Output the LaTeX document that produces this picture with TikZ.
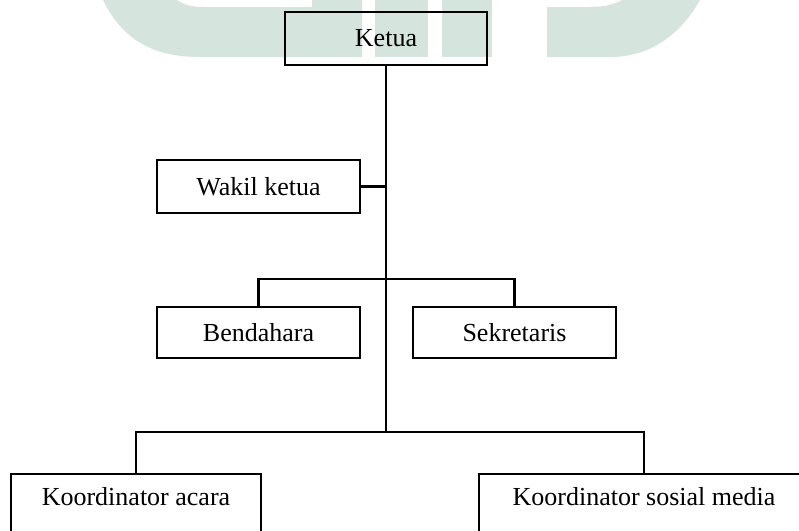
\documentclass[tikz,border=0pt]{standalone}
\usepackage{fontspec}
\setmainfont{Liberation Serif}
\definecolor{wm}{RGB}{214,228,222}
\begin{document}
\begin{tikzpicture}[x=1pt,y=-1pt,
  font=\fontsize{26}{30}\selectfont,
  box/.style={draw=black,line width=2.6pt,inner sep=0pt,minimum width=203pt,minimum height=52pt},
  kbox/.style={draw=black,line width=1.6pt,inner xsep=0pt,inner ysep=0pt,anchor=north,text height=32pt,text depth=40pt},
  conn/.style={draw=black,line width=2.5pt}]
\useasboundingbox (0,0) rectangle (799,530);
\clip (0,0) rectangle (799,530);
\fill[white] (0,0) rectangle (799,530);
% watermark
\fill[wm] (103,0) .. controls (125,45) and (160,57) .. (200,57) -- (362,57) -- (362,0) -- (312,0) -- (312,7) -- (205,7) .. controls (195,7) and (185,6) .. (177,0) -- cycle;
\fill[wm] (375,0) rectangle (428,57);
\fill[wm] (442,0) rectangle (492,57);
\fill[wm] (547,7) -- (590,7) .. controls (605,7) and (615,4) .. (622,0) -- (700,0) .. controls (680,35) and (650,57) .. (610,57) -- (547,57) -- cycle;
% nodes
\node[box,minimum width=202pt,minimum height=53pt] (ketua) at (386,38.5) {Ketua};
\node[box,minimum height=53pt] (wakil) at (258.5,186.5) {Wakil ketua};
\node[box,minimum height=51pt] (bend) at (258.5,332.5) {Bendahara};
\node[box,minimum height=51pt] (sek) at (514.5,332.5) {Sekretaris};
\node[kbox,minimum width=250pt] (ka) at (136,473) {Koordinator acara};
\node[kbox,minimum width=330pt] (ks) at (644,473) {Koordinator sosial media};
% connectors
\coordinate (b1) at (386,279);
\coordinate (b2) at (386,432);
\draw[conn] (ketua.south) -- (b2);
\draw[conn] (wakil.east) -- (wakil.east -| ketua.south);
\draw[conn] (bend.north) |- (b1) -| (sek.north);
\draw[conn] (ka.north) |- (b2) -| (ks.north);
\end{tikzpicture}
\end{document}
